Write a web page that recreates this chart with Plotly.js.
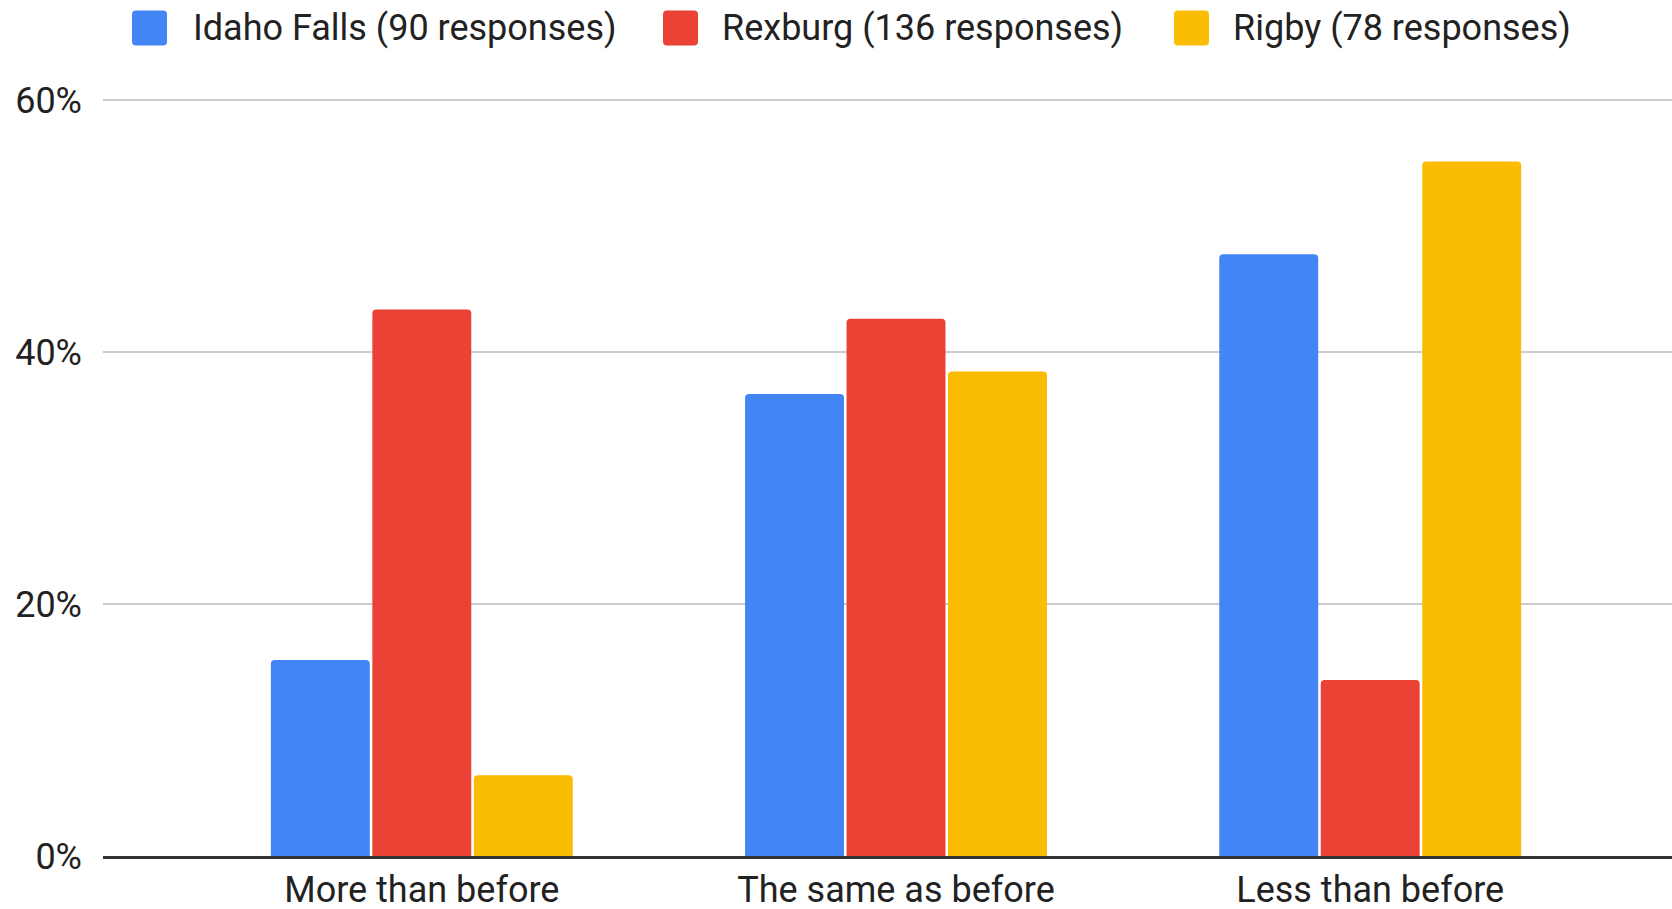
<!DOCTYPE html>
<html>
<head>
<meta charset="utf-8">
<script src="https://cdn.plot.ly/plotly-3.0.1.min.js"></script>
<style>html,body{margin:0;padding:0;background:#fff;}#chart{width:1672px;height:909px;}</style>
</head>
<body>
<div id="chart"></div>
<script>
const categories = ["More than before", "The same as before", "Less than before"];
const seriesNames = ["Idaho Falls (90 responses)", "Rexburg (136 responses)", "Rigby (78 responses)"];
const idahoFalls = [15.56, 36.67, 47.78];
const rexburg = [43.38, 42.65, 13.97];
const rigby = [6.41, 38.46, 55.13];
const yTickVals = [0, 20, 40, 60];
const yTickText = ["0%", "20%", "40%", "60%"];

const colors = ["#4285F4", "#EA4335", "#FBBC04"];
const seriesValues = [idahoFalls, rexburg, rigby];
const FONT = "Roboto, Arial, sans-serif";

const W = 1672, H = 909;
const margin = {l: 103, r: 0, t: 75, b: 53};
const plotW = W - margin.l - margin.r;
const plotH = H - margin.t - margin.b;
const px2x = p => (p - margin.l) / plotW;
const px2y = p => (H - margin.b - p) / plotH;

const traces = seriesValues.map((vals, i) => ({
  type: "bar",
  x: categories.map((c, k) => k),
  y: vals,
  name: seriesNames[i],
  marker: {color: colors[i], cornerradius: 4},
  showlegend: false,
  hoverinfo: "none"
}));

// manual legend (rounded squares + labels)
const legendSquareX = [132, 663, 1174];
const legendTextX = [191, 720, 1231];
const legendCY = 28;
const SQ = 35, R = 4;
function roundedRectPath(x0, y0, x1, y1, r) {
  // pixel coords -> paper coords path
  const X = p => px2x(p), Y = p => px2y(p);
  return `M${X(x0 + r)},${Y(y0)} L${X(x1 - r)},${Y(y0)} Q${X(x1)},${Y(y0)} ${X(x1)},${Y(y0 + r)} ` +
         `L${X(x1)},${Y(y1 - r)} Q${X(x1)},${Y(y1)} ${X(x1 - r)},${Y(y1)} ` +
         `L${X(x0 + r)},${Y(y1)} Q${X(x0)},${Y(y1)} ${X(x0)},${Y(y1 - r)} ` +
         `L${X(x0)},${Y(y0 + r)} Q${X(x0)},${Y(y0)} ${X(x0 + r)},${Y(y0)} Z`;
}
const shapes = [];
const annotations = [];
seriesNames.forEach((n, i) => {
  shapes.push({
    type: "path", xref: "paper", yref: "paper",
    path: roundedRectPath(legendSquareX[i], legendCY - SQ / 2, legendSquareX[i] + SQ, legendCY + SQ / 2, R),
    fillcolor: colors[i], line: {width: 0}
  });
  annotations.push({
    xref: "paper", yref: "paper",
    x: px2x(legendTextX[i]), y: px2y(legendCY),
    xanchor: "left", yanchor: "middle",
    text: n, showarrow: false,
    font: {family: FONT, size: 36, color: "#222"}
  });
});

const layout = {
  width: W, height: H,
  margin: margin,
  paper_bgcolor: "#fff", plot_bgcolor: "#fff",
  font: {family: FONT, color: "#222"},
  barmode: "group",
  bargap: 0.358,
  bargroupgap: 0.025,
  showlegend: false,
  xaxis: {
    type: "linear",
    range: [-0.6723, 2.6364],
    tickvals: [0, 1, 2],
    ticktext: categories,
    tickfont: {family: FONT, size: 36, color: "#222"},
    showgrid: false, zeroline: false,
    showline: true, linecolor: "#333", linewidth: 2.5,
    ticks: "", fixedrange: true
  },
  yaxis: {
    range: [0, 62],
    tickvals: yTickVals,
    ticktext: yTickText,
    tickfont: {family: FONT, size: 36, color: "#222"},
    showgrid: true, gridcolor: "#cccccc", gridwidth: 2,
    zeroline: false, ticks: "", ticklabelstandoff: 20,
    fixedrange: true
  },
  shapes: shapes,
  annotations: annotations
};

Plotly.newPlot("chart", traces, layout, {staticPlot: true, displayModeBar: false});
</script>
</body>
</html>
